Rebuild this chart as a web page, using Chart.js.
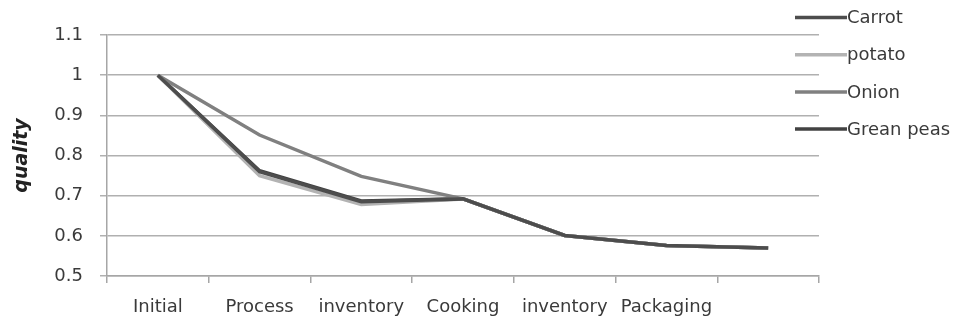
<!DOCTYPE html>
<html>
<head>
<meta charset="utf-8">
<script src="https://cdn.jsdelivr.net/npm/chart.js@4/dist/chart.umd.min.js"></script>
<style>
  html, body { margin: 0; padding: 0; background: #ffffff; }
  #wrap { width: 957px; height: 322px; }
</style>
</head>
<body>
<div id="wrap"><canvas id="c" width="957" height="322"></canvas></div>
<script>
// Processing stages (the last stage has no label on the axis)
const stages = ['Initial', 'Process', 'inventory', 'Cooking', 'inventory', 'Packaging', ''];

// Relative quality of each vegetable across the stages
const carrot    = [1.00, 0.760, 0.685, 0.692, 0.601, 0.576, 0.570];
const potato    = [1.00, 0.750, 0.678, 0.692, 0.601, 0.576, 0.570];
const onion     = [1.00, 0.851, 0.748, 0.692, 0.601, 0.576, 0.570];
const greenPeas = [1.00, 0.762, 0.687, 0.692, 0.601, 0.576, 0.570];

const yTicks = [0.5, 0.6, 0.7, 0.8, 0.9, 1, 1.1];

const FONT = "'DejaVu Sans', 'Open Sans', sans-serif";

// Legend drawn as a line sample followed directly by the series name
const sideLegend = {
  id: 'sideLegend',
  afterDraw(chart) {
    const ctx = chart.ctx;
    ctx.save();
    ctx.font = `18px ${FONT}`;
    ctx.textBaseline = 'middle';
    ctx.textAlign = 'left';
    chart.data.datasets.forEach((ds, i) => {
      const y = 17.5 + i * 37.2;
      ctx.strokeStyle = ds.borderColor;
      ctx.lineWidth = 3.5;
      ctx.lineCap = 'butt';
      ctx.beginPath();
      ctx.moveTo(795, y);
      ctx.lineTo(847, y);
      ctx.stroke();
      ctx.fillStyle = '#3a3a3a';
      ctx.fillText(ds.label, 847, y + 1);
    });
    ctx.restore();
  }
};

new Chart(document.getElementById('c'), {
  type: 'line',
  data: {
    labels: stages,
    datasets: [
      { label: 'Carrot',     data: carrot,    borderColor: '#4d4d4d' },
      { label: 'potato',     data: potato,    borderColor: '#b3b3b3' },
      { label: 'Onion',      data: onion,     borderColor: '#808080' },
      { label: 'Grean peas', data: greenPeas, borderColor: '#424242' }
    ].map(d => Object.assign(d, {
      borderWidth: 3.5,
      pointRadius: 0,
      pointHoverRadius: 0,
      tension: 0,
      fill: false
    }))
  },
  options: {
    responsive: false,
    animation: false,
    devicePixelRatio: 1,
    layout: { padding: { left: 0, right: 138, top: 35, bottom: 0 } },
    plugins: {
      legend: { display: false },
      tooltip: { enabled: false }
    },
    scales: {
      x: {
        offset: true,
        grid: {
          offset: true,
          drawOnChartArea: false,
          drawTicks: true,
          tickLength: 7,
          color: '#a6a6a6',
          lineWidth: 1.5
        },
        border: { display: true, color: '#a6a6a6', width: 1.5 },
        ticks: {
          color: '#3a3a3a',
          font: { family: FONT, size: 18 },
          padding: 14,
          maxRotation: 0,
          autoSkip: false
        },
        afterFit(scale) { scale.height = 46; }
      },
      y: {
        min: 0.5,
        max: 1.1,
        afterBuildTicks(scale) { scale.ticks = yTicks.map(v => ({ value: v })); },
        grid: {
          color: '#b0b0b0',
          lineWidth: 1.5,
          drawTicks: true,
          tickLength: 7
        },
        border: { display: true, color: '#a6a6a6', width: 1.5 },
        ticks: {
          color: '#3a3a3a',
          font: { family: FONT, size: 18 },
          padding: 17,
          callback: v => String(v)
        },
        title: {
          display: true,
          text: 'quality',
          color: '#222222',
          font: { family: FONT, size: 19, weight: 'bold', style: 'italic' },
          padding: { top: 11, bottom: 0 }
        },
        afterFit(scale) { scale.width = 107; }
      }
    }
  },
  plugins: [sideLegend]
});
</script>
</body>
</html>
